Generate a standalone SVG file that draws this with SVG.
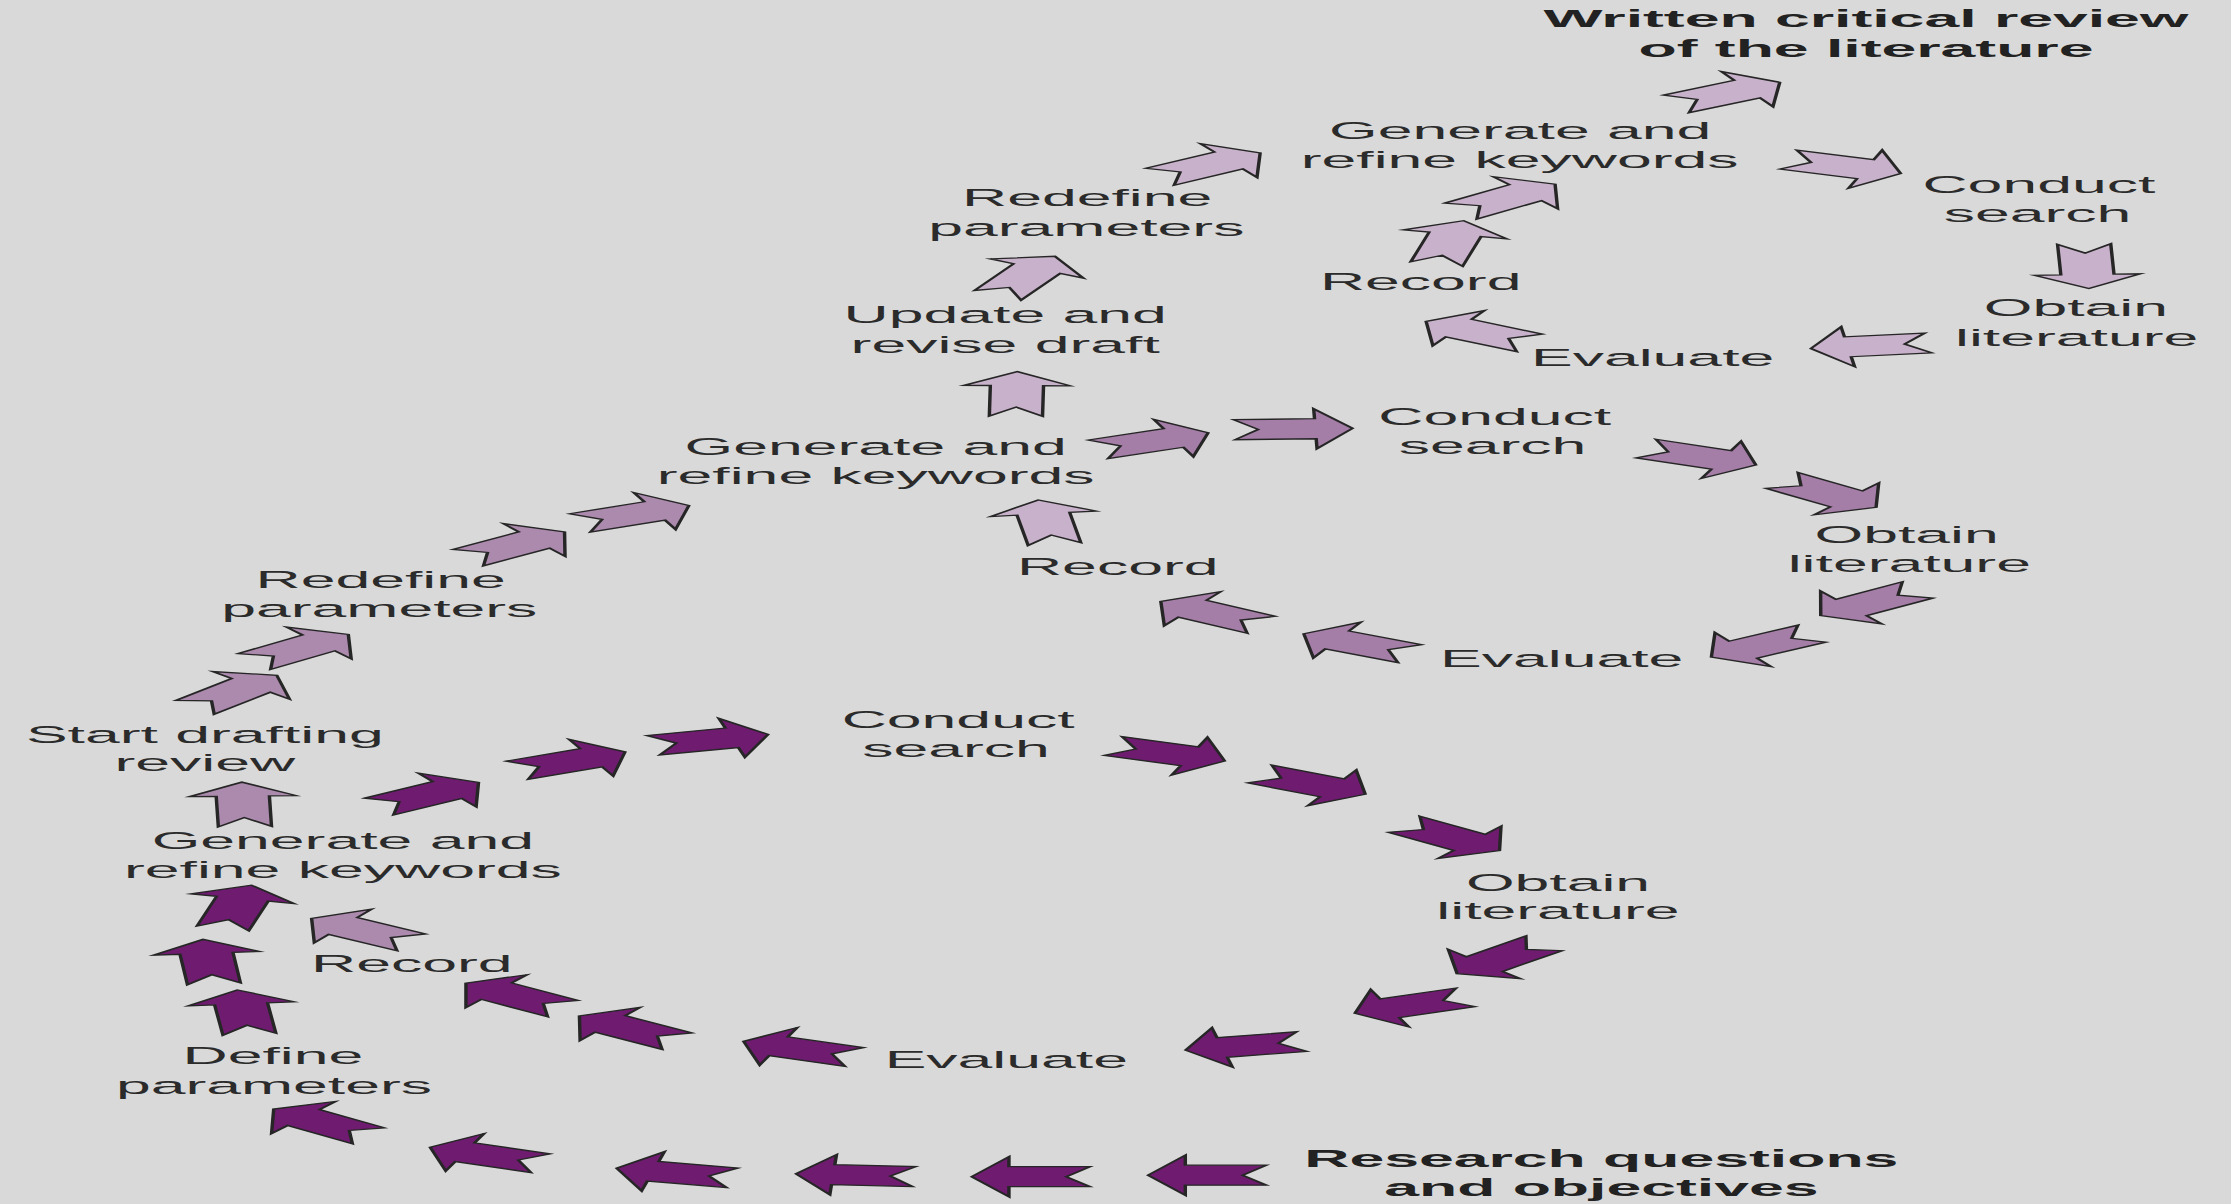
<svg xmlns="http://www.w3.org/2000/svg" width="2231" height="1204" viewBox="0 0 2231 1204">
<defs>
<style>
.lbl{font-family:"Liberation Sans",Arial,Helvetica,sans-serif;font-size:23.5px;fill:#2b2b2b;text-anchor:middle}
.b{font-weight:bold;fill:#222}
.a{stroke:#262626;stroke-width:1.3;stroke-linejoin:miter}
.dk{fill:#6f1c70}
.md{fill:#a57ea8}
.ml{fill:#ab8aad}
.lt{fill:#c8b1ca}
</style>
<path id="arr" d="M-22,-10 L8.5,-10 L8.5,-20 L22.5,0 L8.5,20 L8.5,10 L-22,10 L-13,0 Z"/>
</defs>
<rect width="2231" height="1204" fill="#d9d9d9"/>
<g transform="scale(2.66,1)">
<g id="connectors">
<use href="#arr" class="a dk" transform="translate(454.1,1175.2) rotate(180)"/>
<use href="#arr" class="a dk" transform="translate(387.8,1176.7) rotate(180)"/>
<use href="#arr" class="a dk" transform="translate(321.7,1175.2) rotate(-176.4)"/>
<use href="#arr" class="a dk" transform="translate(253.8,1173.1) rotate(-167.6)"/>
<use href="#arr" class="a dk" transform="translate(182.7,1155.3) rotate(-158.9)"/>
<use href="#arr" class="a dk" transform="translate(120.9,1122.6) rotate(-143.1)"/>
<use href="#arr" class="a dk" transform="translate(91.5,1012.3) rotate(-95.9)"/>
<use href="#arr" class="a dk" transform="translate(78.4,961.8) rotate(-95.3)"/>
<use href="#arr" class="a dk" transform="translate(89.1,907.0) rotate(-76.1)"/>
<use href="#arr" class="a dk" transform="translate(161.0,794.6) rotate(-32.9)"/>
<use href="#arr" class="a dk" transform="translate(214.5,761.2) rotate(-24.4)"/>
<use href="#arr" class="a dk" transform="translate(266.9,739.9) rotate(-14.2)"/>
<use href="#arr" class="a dk" transform="translate(439.2,753.4) rotate(19.6)"/>
<use href="#arr" class="a dk" transform="translate(493.2,784.0) rotate(27)"/>
<use href="#arr" class="a dk" transform="translate(545.6,837.3) rotate(36.3)"/>
<use href="#arr" class="a dk" transform="translate(564.3,958.3) rotate(137.2)"/>
<use href="#arr" class="a dk" transform="translate(530.4,1005.2) rotate(159.1)"/>
<use href="#arr" class="a dk" transform="translate(467.8,1045.8) rotate(168.9)"/>
<use href="#arr" class="a dk" transform="translate(300.6,1049.3) rotate(-159.4)"/>
<use href="#arr" class="a dk" transform="translate(236.4,1028.7) rotate(-145.6)"/>
<use href="#arr" class="a dk" transform="translate(193.6,996.0) rotate(-145)"/>
<use href="#arr" class="a ml" transform="translate(136.1,930.5) rotate(-147.4)"/>
<use href="#arr" class="a ml" transform="translate(91.5,804.6) rotate(-91.5)"/>
<use href="#arr" class="a ml" transform="translate(88.5,691.5) rotate(-46.3)"/>
<use href="#arr" class="a ml" transform="translate(113.1,648.1) rotate(-37.5)"/>
<use href="#arr" class="a ml" transform="translate(193.9,544.9) rotate(-35.4)"/>
<use href="#arr" class="a ml" transform="translate(238.3,514.3) rotate(-23.1)"/>
<use href="#arr" class="a lt" transform="translate(382.2,394.1) rotate(-89.3)"/>
<use href="#arr" class="a lt" transform="translate(385.7,276.0) rotate(-61.2)"/>
<use href="#arr" class="a lt" transform="translate(454.7,165.0) rotate(-32.2)"/>
<use href="#arr" class="a md" transform="translate(433.3,441.1) rotate(-21.8)"/>
<use href="#arr" class="a md" transform="translate(486.0,429.0) rotate(-1.8)"/>
<use href="#arr" class="a md" transform="translate(639.2,456.7) rotate(21.8)"/>
<use href="#arr" class="a md" transform="translate(687.4,493.7) rotate(37.3)"/>
<use href="#arr" class="a md" transform="translate(702.9,602.6) rotate(144.9)"/>
<use href="#arr" class="a md" transform="translate(662.5,645.2) rotate(148.2)"/>
<use href="#arr" class="a md" transform="translate(510.3,643.8) rotate(-153.5)"/>
<use href="#arr" class="a md" transform="translate(455.5,613.2) rotate(-148.1)"/>
<use href="#arr" class="a lt" transform="translate(393.4,522.2) rotate(-97.9)"/>
<use href="#arr" class="a lt" transform="translate(566.7,197.8) rotate(-37.2)"/>
<use href="#arr" class="a lt" transform="translate(545.1,242.6) rotate(-76.9)"/>
<use href="#arr" class="a lt" transform="translate(555.8,332.2) rotate(-151)"/>
<use href="#arr" class="a lt" transform="translate(703.1,345.7) rotate(172.7)"/>
<use href="#arr" class="a lt" transform="translate(784.4,266.1) rotate(87.7)"/>
<use href="#arr" class="a lt" transform="translate(693.2,166.5) rotate(18.4)"/>
<use href="#arr" class="a lt" transform="translate(649.4,93.2) rotate(-29)"/>
</g>
<g id="n-written"><text class="lbl b" x="701.5" y="27"><tspan x="701.5">Written critical review</tspan><tspan x="701.5" y="56.9">of the literature</tspan></text></g>
<g id="n-gen3"><text class="lbl" x="571.5" y="139.4"><tspan x="571.5">Generate and</tspan><tspan x="571.3" y="167.9">refine keywords</tspan></text></g>
<g id="n-conduct3"><text class="lbl" x="766.5" y="193.5"><tspan x="766.5">Conduct</tspan><tspan x="766" y="221.9">search</tspan></text></g>
<g id="n-record3"><text class="lbl" x="534.1" y="290.2">Record</text></g>
<g id="n-obtain3"><text class="lbl" x="780.4" y="315.8"><tspan x="780.4">Obtain</tspan><tspan x="780.7" y="345.7">literature</tspan></text></g>
<g id="n-evaluate3"><text class="lbl" x="621.3" y="365.6">Evaluate</text></g>
<g id="n-redefine2"><text class="lbl" x="408.7" y="206.3"><tspan x="408.7">Redefine</tspan><tspan x="408.4" y="236.1">parameters</tspan></text></g>
<g id="n-update"><text class="lbl" x="377.9" y="322.9"><tspan x="377.9">Update and</tspan><tspan x="377.9" y="352.8">revise draft</tspan></text></g>
<g id="n-gen2"><text class="lbl" x="329.2" y="455.3"><tspan x="329.2">Generate and</tspan><tspan x="329.2" y="483.7">refine keywords</tspan></text></g>
<g id="n-conduct2"><text class="lbl" x="561.9" y="425.4"><tspan x="561.9">Conduct</tspan><tspan x="561.1" y="453.8">search</tspan></text></g>
<g id="n-record2"><text class="lbl" x="420.2" y="575">Record</text></g>
<g id="n-obtain2"><text class="lbl" x="716.8" y="543.5"><tspan x="716.8">Obtain</tspan><tspan x="717.8" y="571.9">literature</tspan></text></g>
<g id="n-evaluate2"><text class="lbl" x="587.1" y="667.3">Evaluate</text></g>
<g id="n-redefine1"><text class="lbl" x="143.1" y="587.6"><tspan x="143.1">Redefine</tspan><tspan x="142.6" y="617.5">parameters</tspan></text></g>
<g id="n-start"><text class="lbl" x="77" y="742.7"><tspan x="77">Start drafting</tspan><tspan x="77" y="771.1">review</tspan></text></g>
<g id="n-gen1"><text class="lbl" x="128.9" y="849.4"><tspan x="128.9">Generate and</tspan><tspan x="128.9" y="877.8">refine keywords</tspan></text></g>
<g id="n-record1"><text class="lbl" x="154.8" y="971.7">Record</text></g>
<g id="n-define"><text class="lbl" x="102.6" y="1064.2"><tspan x="102.6">Define</tspan><tspan x="103" y="1094.1">parameters</tspan></text></g>
<g id="n-conduct1"><text class="lbl" x="360.2" y="728.4"><tspan x="360.2">Conduct</tspan><tspan x="359.4" y="756.9">search</tspan></text></g>
<g id="n-obtain1"><text class="lbl" x="585.7" y="890.6"><tspan x="585.7">Obtain</tspan><tspan x="585.7" y="919.1">literature</tspan></text></g>
<g id="n-evaluate1"><text class="lbl" x="378.3" y="1068.5">Evaluate</text></g>
<g id="n-research"><text class="lbl b" x="602" y="1167"><tspan x="602">Research questions</tspan><tspan x="602" y="1196">and objectives</tspan></text></g>
</g>
</svg>
